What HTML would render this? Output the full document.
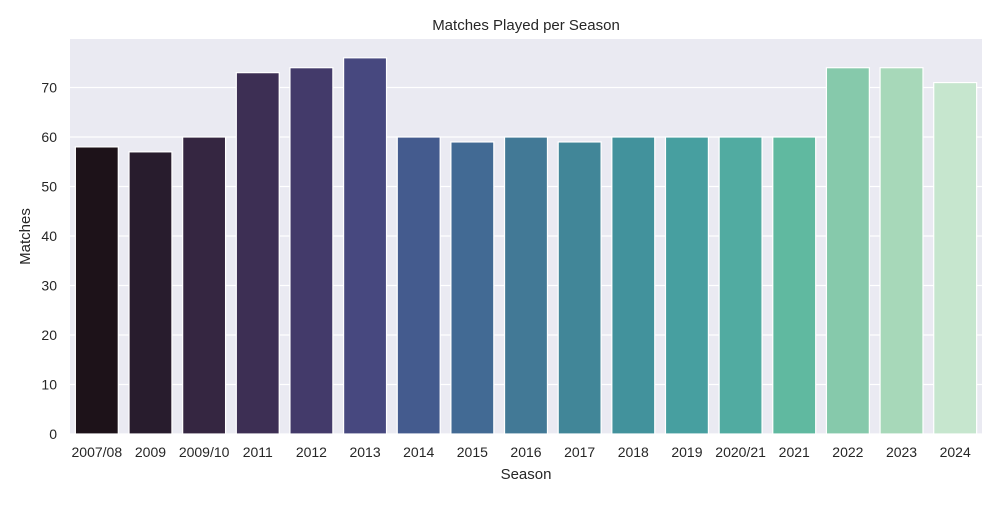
<!DOCTYPE html>
<html><head><meta charset="utf-8"><style>
body{margin:0;background:#fff;font-family:"Liberation Sans",sans-serif}
svg text{fill:#262626;font-family:"Liberation Sans",sans-serif}
</style></head><body>
<svg id="c" width="1000" height="500"></svg>
<script>
const categories=["2007/08","2009","2009/10","2011","2012","2013","2014","2015","2016","2017","2018","2019","2020/21","2021","2022","2023","2024"];
const matches=[58,57,60,73,74,76,60,59,60,59,60,60,60,60,74,74,71];
const yTicks=[0,10,20,30,40,50,60,70];
const colors=["#1d1219","#281c2d","#352641","#3d2f54","#433a6a","#47487f","#445b8e","#426a94","#427996","#418698","#42929c","#479fa0","#51aba1","#60b9a0","#86c9ab","#a7d8b9","#c6e6ce"];
const L=70,R=982,T=39,B=434,yMax=79.8;
const ns="http://www.w3.org/2000/svg",svg=document.getElementById('c');
const y=v=>B-v/yMax*(B-T);
const band=(R-L)/categories.length;
const x=i=>L+band*i;
function el(t,a,txt){const e=document.createElementNS(ns,t);for(const k in a)e.setAttribute(k,a[k]);if(txt!=null)e.textContent=txt;svg.appendChild(e);return e;}
const bg=el('rect',{x:L,y:T,width:R-L,height:B-T,fill:'#eaeaf2'});


yTicks.forEach(t=>{
 const g=el('line',{x1:L,x2:R,y1:y(t),y2:y(t),stroke:'#fff','stroke-width':1.2});
 
 
 const lb=el('text',{x:L-13,y:y(t)+5,'text-anchor':'end','font-size':14},t);
 
 
});
categories.forEach((c,i)=>{
 const w=band*0.8;
 const r=el('rect',{x:x(i)+band*0.1,y:y(matches[i]),width:w,height:B-y(matches[i]),fill:colors[i],stroke:'#fff','stroke-width':1.2});
 
 
 const lb=el('text',{x:x(i)+band/2,y:B+23,'text-anchor':'middle','font-size':14},c);
 
 
});
const t1=el('text',{x:(L+R)/2,y:30,'text-anchor':'middle','font-size':15},'Matches Played per Season');


const t2=el('text',{x:(L+R)/2,y:479,'text-anchor':'middle','font-size':15},'Season');


const t3=el('text',{x:30,y:(T+B)/2,'text-anchor':'middle','font-size':15,transform:`rotate(-90 30 ${(T+B)/2})`},'Matches');


</script>
</body></html>
